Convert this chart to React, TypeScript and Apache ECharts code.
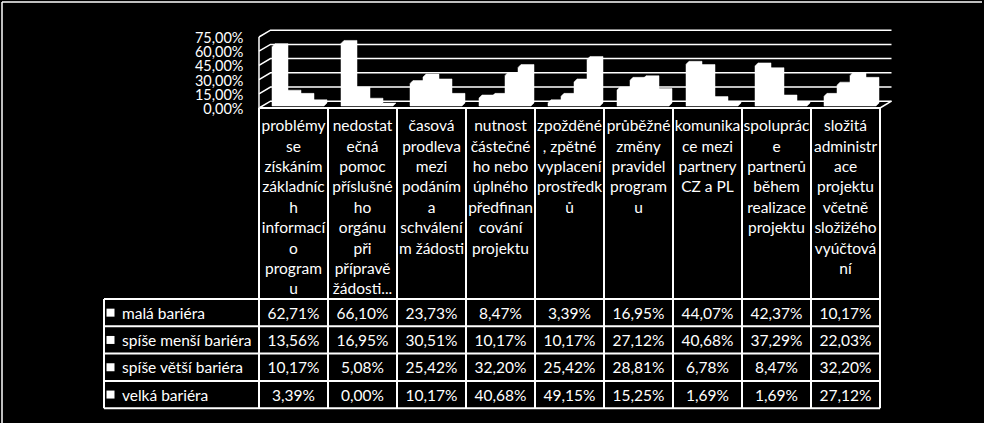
import React, { useEffect, useRef } from "react";
import * as echarts from "echarts";

// ---------- data ----------
const categories = [
  "problémy\nse\nzískáním\nzákladníc\nh\ninformací\no\nprogram\nu",
  "nedostat\nečná\npomoc\npříslušné\nho\norgánu\npři\npřípravě\nžádosti...",
  "časová\nprodleva\nmezi\npodáním\na\nschválení\nm žádosti",
  "nutnost\nčástečné\nho nebo\núplného\npředfinan\ncování\nprojektu",
  "zpožděné\n, zpětné\nvyplacení\nprostředk\nů",
  "průběžné\nzměny\npravidel\nprogram\nu",
  "komunika\nce mezi\npartnery\nCZ a PL",
  "spoluprác\ne\npartnerů\nběhem\nrealizace\nprojektu",
  "složitá\nadministr\nace\nprojektu\nvčetně\nsložižého\nvyúčtová\nní",
];
const seriesNames = ["malá bariéra", "spíše menší bariéra", "spíše větší bariéra", "velká bariéra"];
const malaBariera = [62.71, 66.1, 23.73, 8.47, 3.39, 16.95, 44.07, 42.37, 10.17];
const spiseMensiBariera = [13.56, 16.95, 30.51, 10.17, 10.17, 27.12, 40.68, 37.29, 22.03];
const spiseVetsiBariera = [10.17, 5.08, 25.42, 32.2, 25.42, 28.81, 6.78, 8.47, 32.2];
const velkaBariera = [3.39, 0.0, 10.17, 40.68, 49.15, 15.25, 1.69, 1.69, 27.12];
const seriesValues = [malaBariera, spiseMensiBariera, spiseVetsiBariera, velkaBariera];
const yTicks = [0, 15, 30, 45, 60, 75];

// ---------- layout ----------
const W = 984;
const H = 423;
const PLOT_LEFT = 259;
const PLOT_RIGHT = 880;
const FRONT_TOP = 37;
const FRONT_BOTTOM = 108;
const DEPTH_X = 11.5;
const DEPTH_Y = -6.8;
const FONT = "Lato, 'Noto Sans', sans-serif";
const ROW_TOP = 299;
const ROW_H = 27.3;
const LEGEND_LEFT = 104;
const YLABEL_GAP = 15.5;

const fmtPct = (v: number) => v.toFixed(2).replace(".", ",") + "%";

export default function App() {
  const ref = useRef<HTMLDivElement>(null);

  useEffect(() => {
    if (!ref.current) return;
    const chart = echarts.init(ref.current, null, { renderer: "svg" });

    const bandW = (PLOT_RIGHT - PLOT_LEFT) / categories.length;

    // graphic: frame, data table
    const graphics: any[] = [];
    const stroke = { stroke: "#fff", lineWidth: 2 };
    graphics.push({ type: "line", shape: { x1: 2, y1: 2, x2: 982, y2: 2 }, style: { stroke: "#fff", lineWidth: 1.5 } });
    graphics.push({ type: "line", shape: { x1: 2, y1: 2, x2: 2, y2: H }, style: { stroke: "#fff", lineWidth: 1.5 } });
    const rowsBottom = ROW_TOP + ROW_H * seriesNames.length;
    for (let k = 0; k <= categories.length; k++) {
      const x = PLOT_LEFT + k * bandW;
      graphics.push({ type: "line", shape: { x1: x, y1: FRONT_BOTTOM, x2: x, y2: rowsBottom }, style: stroke });
    }
    graphics.push({ type: "line", shape: { x1: LEGEND_LEFT, y1: ROW_TOP, x2: LEGEND_LEFT, y2: rowsBottom }, style: stroke });
    graphics.push({ type: "line", shape: { x1: PLOT_LEFT, y1: FRONT_BOTTOM, x2: PLOT_RIGHT, y2: FRONT_BOTTOM }, style: stroke });
    for (let r = 0; r <= seriesNames.length; r++) {
      const y = ROW_TOP + r * ROW_H;
      graphics.push({ type: "line", shape: { x1: LEGEND_LEFT, y1: y, x2: PLOT_RIGHT, y2: y }, style: stroke });
    }
    categories.forEach((c, k) => {
      graphics.push({
        type: "text",
        x: PLOT_LEFT + k * bandW + bandW / 2,
        y: FRONT_BOTTOM + 7,
        style: {
          text: c,
          fill: "#fff",
          font: `15.5px ${FONT}`,
          lineHeight: 20.4,
          textAlign: "center",
          textVerticalAlign: "top",
        },
      });
    });
    seriesNames.forEach((name, r) => {
      const cy = ROW_TOP + r * ROW_H + ROW_H / 2;
      graphics.push({ type: "rect", shape: { x: 106.5, y: cy - 4, width: 8, height: 8 }, style: { fill: "#fff" } });
      graphics.push({
        type: "text",
        x: 122,
        y: cy,
        style: { text: name, fill: "#fff", font: `15.5px ${FONT}`, textAlign: "left", textVerticalAlign: "middle" },
      });
      seriesValues[r].forEach((v, k) => {
        graphics.push({
          type: "text",
          x: PLOT_LEFT + k * bandW + bandW / 2,
          y: cy,
          style: { text: fmtPct(v), fill: "#fff", font: `15.5px ${FONT}`, textAlign: "center", textVerticalAlign: "middle" },
        });
      });
    });

    // 3D walls (gridlines on the left and back walls) + value axis labels
    const wallSeries = {
      type: "custom",
      z: 1,
      silent: true,
      data: yTicks.map((v) => [0, v]),
      renderItem: (params: any, api: any) => {
        const v = api.value(1);
        const y = api.coord([0, v])[1];
        const cs = params.coordSys;
        const xL = cs.x;
        const xR = cs.x + cs.width;
        const children: any[] = [
          {
            type: "polyline",
            shape: { points: [[xL, y], [xL + DEPTH_X, y + DEPTH_Y], [xR + DEPTH_X, y + DEPTH_Y]] },
            style: { stroke: "#fff", lineWidth: 1.5, fill: "none" },
          },
          {
            type: "text",
            x: xL - YLABEL_GAP,
            y: y + 0.5,
            style: {
              text: fmtPct(v),
              fill: "#fff",
              font: `14.5px ${FONT}`,
              lineHeight: 12,
              textAlign: "right",
              textVerticalAlign: "middle",
            },
          },
        ];
        if (v === 0) {
          const yTop = api.coord([0, yTicks[yTicks.length - 1]])[1];
          children.push({ type: "line", shape: { x1: xL, y1: y, x2: xL, y2: yTop }, style: { stroke: "#fff", lineWidth: 1.5 } });
          children.push({ type: "line", shape: { x1: xR, y1: y, x2: xR + DEPTH_X, y2: y + DEPTH_Y }, style: { stroke: "#fff", lineWidth: 1.5 } });
        }
        return { type: "group", children };
      },
    };

    const barSeries = seriesNames.map((name, si) => ({
      type: "custom",
      name,
      z: 2,
      data: seriesValues[si].map((v, k) => [k, v]),
      encode: { x: 0, y: 1 },
      renderItem: (params: any, api: any) => {
        const k = api.value(0);
        const v = api.value(1);
        const [cx, yv] = api.coord([k, v]);
        const y0 = api.coord([k, 0])[1];
        const bw = api.size([1, 0])[0];
        const unit = bw * (13 / 69);
        const x0 = cx - bw / 2 + unit + si * unit;
        const x1 = x0 + unit;
        const yB = y0 - 2;
        const yT = yv - 2;
        const d = 3;
        return {
          type: "polygon",
          shape: {
            points: [
              [x0, yB],
              [x0, yT],
              [x0 + d, yT - d],
              [x1 + d, yT - d],
              [x1 + d, yB - d],
              [x1, yB],
            ],
          },
          style: { fill: "#fff", stroke: "#fff", lineWidth: 0.5 },
        };
      },
    }));

    chart.setOption({
      animation: false,
      backgroundColor: "#000",
      grid: {
        left: PLOT_LEFT,
        right: W - PLOT_RIGHT,
        top: FRONT_TOP,
        bottom: H - FRONT_BOTTOM,
        containLabel: false,
      },
      xAxis: {
        type: "category",
        data: categories,
        axisLine: { show: false },
        axisTick: { show: false },
        axisLabel: { show: false },
        splitLine: { show: false },
      },
      yAxis: {
        type: "value",
        min: 0,
        max: 75,
        interval: 15,
        axisLine: { show: false },
        axisTick: { show: false },
        splitLine: { show: false },
        axisLabel: { show: false },
      },
      series: [wallSeries, ...barSeries],
      graphic: graphics,
    });

    return () => chart.dispose();
  }, []);

  return (
    <div
      ref={ref}
      style={{ position: "fixed", left: 0, top: 0, width: W, height: H, background: "#000" }}
    />
  );
}
